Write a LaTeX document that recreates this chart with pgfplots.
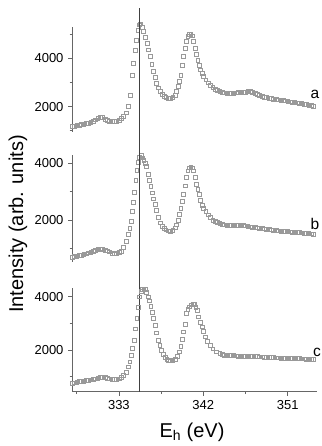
\documentclass[border=0pt]{standalone}
\usepackage{pgfplots}
\usepackage{pgfplotstable}
\pgfplotsset{compat=1.18}
\usepackage{fontspec}
\setmainfont{Liberation Sans}
\setsansfont{Liberation Sans}

\pgfplotstableread{
E I
328.00 1180
328.25 1200
328.50 1220
328.75 1240
329.00 1260
329.25 1280
329.50 1300
329.75 1320
330.00 1350
330.25 1400
330.50 1460
330.75 1530
331.00 1565
331.25 1545
331.50 1495
331.75 1440
332.00 1405
332.25 1385
332.50 1390
332.75 1410
333.00 1450
333.25 1510
333.50 1590
333.75 1750
334.00 2000
334.20 2480
334.40 3310
334.55 3790
334.70 4340
334.85 4750
335.00 5150
335.15 5380
335.30 5420
335.45 5280
335.60 5100
335.80 4880
336.00 4620
336.15 4350
336.30 4070
336.50 3760
336.70 3450
336.85 3200
337.00 2970
337.20 2780
337.40 2620
337.60 2510
337.80 2420
338.00 2380
338.25 2355
338.50 2350
338.75 2390
339.00 2480
339.15 2630
339.30 2830
339.45 3060
339.60 3310
339.75 3700
339.90 4070
340.05 4400
340.20 4690
340.35 4920
340.50 5000
340.65 5000
340.80 4930
340.95 4700
341.10 4400
341.25 4150
341.40 3920
341.55 3710
341.70 3520
341.85 3370
342.00 3240
342.25 3110
342.50 2990
342.75 2890
343.00 2800
343.25 2730
343.50 2680
343.75 2630
344.00 2590
344.25 2570
344.50 2550
344.75 2550
345.00 2555
345.25 2560
345.50 2570
345.75 2578
346.00 2585
346.25 2598
346.50 2610
346.75 2620
347.00 2620
347.25 2595
347.50 2560
347.75 2505
348.00 2460
348.25 2425
348.50 2400
348.75 2380
349.00 2360
349.25 2340
349.50 2320
349.75 2300
350.00 2285
350.25 2270
350.50 2255
350.75 2240
351.00 2225
351.25 2205
351.50 2190
351.75 2175
352.00 2160
352.25 2145
352.50 2130
352.75 2110
353.00 2090
353.25 2070
353.50 2050
353.75 2030
}\dataA

\pgfplotstableread{
E I
328.00 700
328.25 715
328.50 730
328.75 745
329.00 760
329.25 780
329.50 810
329.75 845
330.00 870
330.25 900
330.50 940
330.75 970
331.00 985
331.25 970
331.50 940
331.75 915
332.00 880
332.25 830
332.50 810
332.75 820
333.00 850
333.25 910
333.50 1050
333.75 1240
334.00 1500
334.15 1700
334.30 1950
334.40 2300
334.50 2620
334.65 2970
334.80 3380
334.90 3730
335.05 4020
335.20 4200
335.35 4256
335.50 4180
335.65 4100
335.80 4000
335.95 3880
336.10 3614
336.25 3390
336.40 3170
336.55 2950
336.70 2740
336.85 2540
337.00 2330
337.20 2090
337.40 1900
337.60 1780
337.80 1700
338.00 1650
338.25 1615
338.50 1600
338.75 1640
339.00 1720
339.15 1830
339.30 1975
339.45 2200
339.60 2400
339.75 2650
339.90 2910
340.05 3200
340.20 3500
340.35 3720
340.50 3830
340.65 3845
340.80 3830
340.95 3720
341.10 3495
341.25 3250
341.40 3060
341.55 2900
341.70 2700
341.85 2520
342.00 2420
342.25 2290
342.50 2180
342.75 2080
343.00 2000
343.25 1950
343.50 1905
343.75 1870
344.00 1845
344.25 1830
344.50 1820
344.75 1812
345.00 1805
345.25 1805
345.50 1812
345.75 1822
346.00 1830
346.25 1810
346.50 1790
346.75 1775
347.00 1760
347.25 1745
347.50 1730
347.75 1720
348.00 1710
348.25 1700
348.50 1690
348.75 1678
349.00 1665
349.25 1652
349.50 1640
349.75 1630
350.00 1620
350.25 1612
350.50 1605
350.75 1598
351.00 1590
351.25 1582
351.50 1575
351.75 1570
352.00 1565
352.25 1555
352.50 1545
352.75 1535
353.00 1525
353.25 1518
353.50 1510
353.75 1500
}\dataB

\pgfplotstableread{
E I
328.00 750
328.25 770
328.50 790
328.75 815
329.00 830
329.25 840
329.50 855
329.75 870
330.00 885
330.25 900
330.50 920
330.75 945
331.00 965
331.25 975
331.50 970
331.75 950
332.00 925
332.25 905
332.50 900
332.75 905
333.00 925
333.25 975
333.50 1060
333.75 1180
334.00 1375
334.15 1560
334.30 1800
334.45 2060
334.60 2375
334.75 2800
334.90 3190
335.05 3620
335.20 4000
335.35 4220
335.50 4280
335.65 4290
335.80 4270
335.95 4170
336.10 4000
336.25 3850
336.40 3650
336.55 3420
336.70 3190
336.85 2940
337.00 2650
337.20 2375
337.35 2180
337.50 2000
337.70 1840
337.90 1725
338.10 1660
338.30 1620
338.50 1600
338.75 1610
339.00 1650
339.20 1760
339.45 1940
339.60 2150
339.75 2400
339.90 2690
340.05 2980
340.20 3380
340.35 3520
340.50 3625
340.70 3700
340.90 3740
341.05 3720
341.20 3620
341.35 3480
341.50 3250
341.70 3050
341.85 2875
342.00 2700
342.20 2500
342.45 2330
342.70 2190
343.00 2050
343.40 1940
343.75 1870
344.00 1830
344.25 1818
344.50 1810
344.75 1802
345.00 1795
345.25 1790
345.50 1785
345.75 1782
346.00 1780
346.25 1775
346.50 1770
346.75 1768
347.00 1765
347.25 1762
347.50 1760
347.75 1756
348.00 1752
348.25 1746
348.50 1740
348.75 1732
349.00 1725
349.25 1720
349.50 1715
349.75 1712
350.00 1710
350.25 1705
350.50 1700
350.75 1697
351.00 1695
351.25 1692
351.50 1690
351.75 1688
352.00 1685
352.25 1680
352.50 1675
352.75 1670
353.00 1665
353.25 1660
353.50 1655
353.75 1650
}\dataC

\pgfplotsset{
  panel/.style={
    scale only axis,
    width=244.7pt,
    xmin=328, xmax=354.1,
    clip=false,
    axis y line*=left,
    axis line style={black!60, line width=0.6pt, -},
    tick style={black!60, line width=0.6pt},
    tick align=outside,
    major tick length=4pt,
    minor tick length=2.5pt,
    ytick={2000,4000},
    minor ytick={1000,3000,5000},
    tick label style={font=\fontsize{13}{13}\selectfont},
    /pgf/number format/assume math mode=true,
    /pgf/number format/1000 sep={},
    yticklabel style={xshift=-1pt},
  },
  dots/.style={only marks, mark=square, mark size=1.9pt,
    mark options={draw=black!40, line width=0.4pt, fill=none}},
}

\begin{document}
\begin{tikzpicture}[x=1pt,y=1pt]
\useasboundingbox (0,0) rectangle (321,446);

% panel a
\begin{axis}[panel, at={(72pt,314pt)}, anchor=south west,
  height=105.3pt, ymin=950, ymax=5300,
  axis x line=none]
  \addplot[dots] table[x=E,y=I] {\dataA};
\end{axis}

% panel b
\begin{axis}[panel, at={(72pt,184.3pt)}, anchor=south west,
  height=106.3pt, ymin=530, ymax=4260,
  axis x line=none]
  \addplot[dots] table[x=E,y=I] {\dataB};
\end{axis}

% panel c
\begin{axis}[panel, at={(72pt,54.3pt)}, anchor=south west,
  height=103.5pt, ymin=435, ymax=4320,
  axis x line*=bottom,
  xtick={333,342,351},
  minor xtick={328.5,337.5,346.5},
  xticklabel style={yshift=-1pt}]
  \addplot[dots] table[x=E,y=I] {\dataC};
  \addplot[black!75, line width=0.7pt] coordinates {(335.2,435) (335.2,14830)};
\end{axis}

\node[font=\fontsize{15.5}{15.5}\selectfont] at (315,352) {a};
\node[font=\fontsize{15.5}{15.5}\selectfont] at (315,222) {b};
\node[font=\fontsize{15.5}{15.5}\selectfont] at (317,94) {c};

\node[rotate=90, font=\fontsize{20}{20}\selectfont] at (18,222) {Intensity (arb. units)};
\node[font=\fontsize{20}{20}\selectfont] at (192,14) {E\textsubscript{h} (eV)};
\end{tikzpicture}
\end{document}
